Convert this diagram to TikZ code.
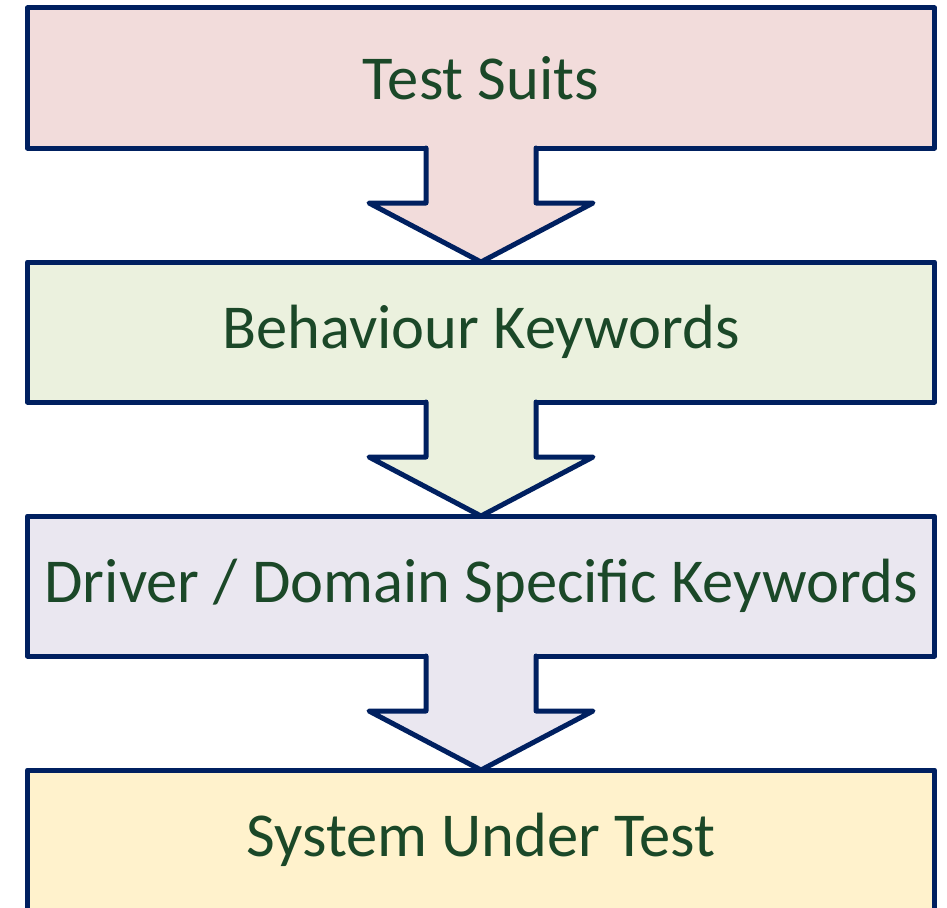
\documentclass[tikz,border=0pt]{standalone}
\usepackage{fontspec}
\setmainfont{Carlito}
\usetikzlibrary{calc}
\definecolor{navyline}{HTML}{002060}
\definecolor{labelgreen}{HTML}{1B4828}
\definecolor{suitfill}{HTML}{F2DCDB}
\definecolor{behavfill}{HTML}{EBF1DE}
\definecolor{driverfill}{HTML}{EAE7F0}
\definecolor{sutfill}{HTML}{FFF2CC}
\tikzset{
  layer/.style={draw=navyline,line width=5pt,minimum width=907pt,minimum height=140pt,
    inner sep=0pt,outer sep=0pt,text=labelgreen,font=\fontsize{62.5}{72}\selectfont},
}

\begin{document}
\begin{tikzpicture}[x=1pt,y=-1pt,line cap=round,line join=round]
  \useasboundingbox (0,0) rectangle (947,907);
  \clip (0,0) rectangle (947,907);
  \node[layer,fill=suitfill] (suits) at (481,78) {Test Suits};
  \node[layer,fill=behavfill] (behav) at (481,332) {Behaviour Keywords};
  \node[layer,fill=driverfill] (driver) at (481,586) {Driver / Domain Specific Keywords};
  \node[layer,fill=sutfill] (sut) at (481,840) {System Under Test};
  \foreach \a/\b/\c in {suits/behav/suitfill,behav/driver/behavfill,driver/sut/driverfill} {
    \fill[\c] ($(\a.south)+(-55,-3)$) -- ++(0,58) -- ++(-57,0) -- (\b.north)
      -- ($(\a.south)+(112,55)$) -- ++(-57,0) -- ++(0,-58) -- cycle;
    \draw[navyline,line width=5pt] ($(\a.south)+(-55,0)$) -- ++(0,55) -- ++(-57,0) -- (\b.north)
      -- ($(\a.south)+(112,55)$) -- ++(-57,0) -- ++(0,-55);
  }
\end{tikzpicture}
\end{document}
